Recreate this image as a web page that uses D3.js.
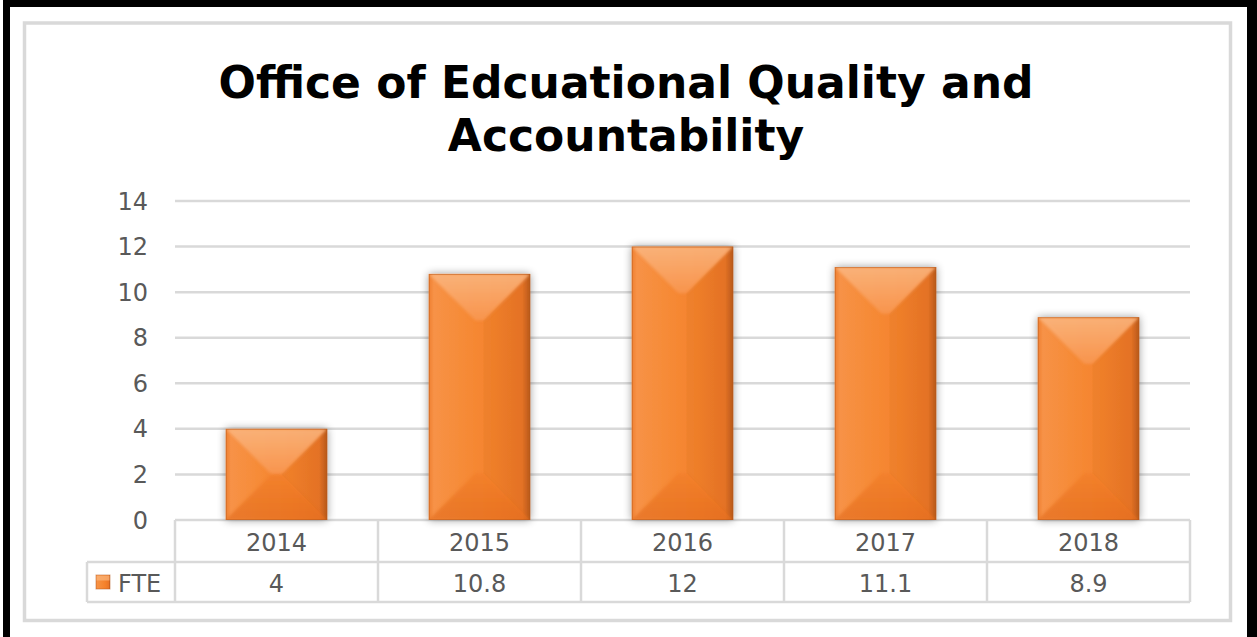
<!DOCTYPE html>
<html>
<head>
<meta charset="utf-8">
<script src="https://cdn.jsdelivr.net/npm/d3@7/dist/d3.min.js"></script>
<style>
  html, body { margin: 0; padding: 0; background: #fff; }
  svg { display: block; }
</style>
</head>
<body>
<svg id="chart" width="1257" height="637"></svg>
<script>
// FTE staffing by fiscal year
const years = ["2014", "2015", "2016", "2017", "2018"];
const fte = [4, 10.8, 12, 11.1, 8.9];
const fteLabels = ["4", "10.8", "12", "11.1", "8.9"];
const yTicks = [0, 2, 4, 6, 8, 10, 12, 14];
const seriesName = "FTE";
const titleLines = ["Office of Edcuational Quality and", "Accountability"];

const W = 1257, H = 637;
const svg = d3.select("#chart");
const GRID = "#d9d9d9";
const TEXT = "#595959";
const FONT = "'DejaVu Sans', Verdana, sans-serif";
const LABEL_SIZE = 24;

// page frame: heavy black border and light chart-area outline
svg.append("rect").attr("x", 0).attr("y", 0).attr("width", W).attr("height", H).attr("fill", "#fff");
svg.append("rect").attr("x", 3).attr("y", 0).attr("width", 7).attr("height", H).attr("fill", "#000");
svg.append("rect").attr("x", 3).attr("y", 0).attr("width", W).attr("height", 7).attr("fill", "#000");
svg.append("rect").attr("x", 1247).attr("y", 0).attr("width", 10).attr("height", H).attr("fill", "#000");
svg.append("rect").attr("x", 24.5).attr("y", 23).attr("width", 1206).attr("height", 597.5)
  .attr("fill", "none").attr("stroke", GRID).attr("stroke-width", 3.5);

// title
const title = svg.append("text")
  .attr("text-anchor", "middle")
  .attr("font-family", FONT)
  .attr("font-weight", "bold")
  .attr("font-size", 44)
  .attr("fill", "#000");
titleLines.forEach((t, i) => {
  title.append("tspan").attr("x", 626).attr("y", 98 + i * 53).text(t);
});

// scales
const plotLeft = 175, plotRight = 1190, plotTop = 201, plotBottom = 520;
const x = d3.scaleBand().domain(years).range([plotLeft, plotRight]).paddingInner(0.5).paddingOuter(0.25);
const y = d3.scaleLinear().domain([0, 14]).range([plotBottom, plotTop]);
const step = x.step();

// defs: gradients and shadow for the bevelled bars
const defs = svg.append("defs");
const side = defs.append("linearGradient").attr("id", "barSide").attr("x1", 0).attr("x2", 1).attr("y1", 0).attr("y2", 0);
[[0, "#ef7f30"], [0.05, "#f79247"], [0.3, "#f68c39"], [0.65, "#f5822b"], [0.92, "#ea7526"], [1, "#bb5a1b"]]
  .forEach(([o, c]) => side.append("stop").attr("offset", o).attr("stop-color", c));
const topG = defs.append("linearGradient").attr("id", "barTop").attr("x1", 0).attr("x2", 0).attr("y1", 0).attr("y2", 1);
[[0, "#fab883"], [1, "#f89752"]].forEach(([o, c]) =>
  topG.append("stop").attr("offset", o).attr("stop-color", c));
const botG = defs.append("linearGradient").attr("id", "barBottom").attr("x1", 0).attr("x2", 0).attr("y1", 0).attr("y2", 1);
[[0, "#f27e2a"], [1, "#e36d1f"]].forEach(([o, c]) => botG.append("stop").attr("offset", o).attr("stop-color", c));
const shadow = defs.append("filter").attr("id", "shadow").attr("x", "-30%").attr("y", "-30%").attr("width", "160%").attr("height", "160%");
shadow.append("feGaussianBlur").attr("in", "SourceAlpha").attr("stdDeviation", 4);
shadow.append("feOffset").attr("dx", 0).attr("dy", 0).attr("result", "b");
shadow.append("feComponentTransfer").append("feFuncA").attr("type", "linear").attr("slope", 0.4);
const merge = shadow.append("feMerge");
merge.append("feMergeNode");
merge.append("feMergeNode").attr("in", "SourceGraphic");
const soft = defs.append("filter").attr("id", "soft");
soft.append("feGaussianBlur").attr("stdDeviation", 1.5);

// gridlines
svg.append("g").selectAll("line").data(yTicks).join("line")
  .attr("x1", plotLeft).attr("x2", plotRight)
  .attr("y1", d => y(d)).attr("y2", d => y(d))
  .attr("stroke", GRID).attr("stroke-width", 2.5);

// y tick labels
svg.append("g").selectAll("text").data(yTicks).join("text")
  .attr("x", 148).attr("y", d => y(d)).attr("dy", "0.36em")
  .attr("text-anchor", "end").attr("font-family", FONT).attr("font-size", LABEL_SIZE).attr("fill", TEXT)
  .text(d => d);

// bars with a pyramid-style bevel
const bars = svg.append("g").selectAll("g").data(years.map((yr, i) => ({ yr, v: fte[i] }))).join("g");
bars.each(function (d) {
  const g = d3.select(this);
  const x0 = x(d.yr), x1 = x0 + x.bandwidth(), y0 = y(d.v), y1 = y(0);
  const w = x1 - x0, h = y1 - y0;
  const b = Math.min(w * 0.46, h / 2);
  const pts = a => a.map(p => p.join(",")).join(" ");
  const ix0 = x0 + b, ix1 = x1 - b, iy0 = y0 + b, iy1 = y1 - b;
  g.append("rect").attr("x", x0).attr("y", y0).attr("width", w).attr("height", h)
    .attr("fill", "url(#barSide)").attr("filter", "url(#shadow)");
  const clipId = "clip" + d.yr;
  defs.append("clipPath").attr("id", clipId).append("rect")
    .attr("x", x0).attr("y", y0).attr("width", w).attr("height", h);
  const facets = g.append("g").attr("clip-path", `url(#${clipId})`);
  // top facet
  facets.append("polygon").attr("points", pts([[x0, y0], [x1, y0], [ix1, iy0], [ix0, iy0]]))
    .attr("fill", "url(#barTop)").attr("opacity", 0.85).attr("filter", "url(#soft)");
  // bottom facet
  facets.append("polygon").attr("points", pts([[x0, y1], [x1, y1], [ix1, iy1], [ix0, iy1]]))
    .attr("fill", "url(#barBottom)").attr("opacity", 0.7).attr("filter", "url(#soft)");
  // right facet shade
  facets.append("polygon").attr("points", pts([[x1, y0], [ix1, iy0], [ix1, iy1], [x1, y1]]))
    .attr("fill", "#7a3a10").attr("opacity", 0.05);
  g.append("rect").attr("x", x0 + 0.5).attr("y", y0 + 0.5).attr("width", w - 1).attr("height", h - 1)
    .attr("fill", "none").attr("stroke", "#b5581c").attr("stroke-opacity", 0.5).attr("stroke-width", 1);
});

// data table beneath the plot
const rowTop = plotBottom, rowMid = 562, rowBot = 602, legendLeft = 87;
const tbl = svg.append("g").attr("stroke", GRID).attr("stroke-width", 2.5);
tbl.append("line").attr("x1", legendLeft).attr("x2", plotRight).attr("y1", rowMid).attr("y2", rowMid);
tbl.append("line").attr("x1", legendLeft).attr("x2", plotRight).attr("y1", rowBot).attr("y2", rowBot);
tbl.append("line").attr("x1", legendLeft).attr("x2", legendLeft).attr("y1", rowMid).attr("y2", rowBot);
tbl.selectAll("line.v").data(d3.range(years.length + 1)).join("line").attr("class", "v")
  .attr("x1", i => plotLeft + i * step).attr("x2", i => plotLeft + i * step)
  .attr("y1", rowTop).attr("y2", rowBot);

svg.append("g").selectAll("text").data(years).join("text")
  .attr("x", d => x(d) + x.bandwidth() / 2).attr("y", (rowTop + rowMid) / 2 + 1).attr("dy", "0.36em")
  .attr("text-anchor", "middle").attr("font-family", FONT).attr("font-size", LABEL_SIZE).attr("fill", TEXT)
  .text(d => d);
svg.append("g").selectAll("text").data(fteLabels).join("text")
  .attr("x", (d, i) => x(years[i]) + x.bandwidth() / 2).attr("y", (rowMid + rowBot) / 2 + 1).attr("dy", "0.36em")
  .attr("text-anchor", "middle").attr("font-family", FONT).attr("font-size", LABEL_SIZE).attr("fill", TEXT)
  .text(d => d);

// legend key in the table's first column
svg.append("rect").attr("x", 96).attr("y", 575).attr("width", 14).attr("height", 14)
  .attr("fill", "url(#barSide)").attr("stroke", "#b5581c").attr("stroke-opacity", 0.5);
svg.append("rect").attr("x", 96.5).attr("y", 575.5).attr("width", 13).attr("height", 5)
  .attr("fill", "#fbb77e").attr("opacity", 0.7);
svg.append("text").attr("x", 118).attr("y", (rowMid + rowBot) / 2 + 1).attr("dy", "0.36em")
  .attr("font-family", FONT).attr("font-size", LABEL_SIZE).attr("fill", TEXT).text(seriesName);
</script>
</body>
</html>
